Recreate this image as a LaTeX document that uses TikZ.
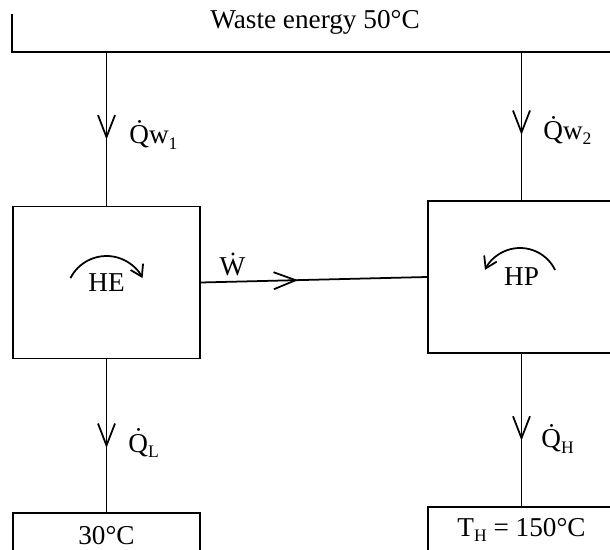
\documentclass[tikz,border=0pt]{standalone}
\usepackage{fontspec}
\setmainfont{Liberation Serif}
\usetikzlibrary{arrows.meta,positioning,decorations.markings}
\newcommand{\lowidx}[1]{\raisebox{-0.45ex}{\fontsize{10}{12}\selectfont #1}}
\tikzset{
  plant/.style={draw, line width=1pt, minimum width=3.74cm, minimum height=3.04cm, inner sep=0pt},
  reservoir/.style={draw, line width=1pt, minimum width=3.74cm, minimum height=0.92cm, inner sep=0pt},
  flow/.style={line width=1pt, postaction={decorate},
    decoration={markings, mark=at position #1 with {\arrow{Straight Barb[length=0.44cm, width=0.34cm, line width=1pt]}}}},
  flowlabel/.style={inner sep=0pt},
  spinarrow/.style={line width=1pt, -{Straight Barb[length=0.22cm, width=0.28cm]}}
}

\begin{document}
\begin{tikzpicture}[x=0.02cm, y=-0.02cm, font=\fontsize{15.5}{18}\selectfont]
  \useasboundingbox (0,0) rectangle (610,550);
  \clip (0,0) rectangle (610,550);
  % waste energy reservoir, open at the top and right
  \node (waste) at (315,22) {Waste energy 50°C};
  \draw[line width=1pt] (12,14) |- (620,52) coordinate (wastebase);
  \node[plant] (he) at (106.5,282.5) {HE};
  \node[plant] (hp) at (521.5,277) {HP};
  \node[reservoir] (cold) at (106.5,536) {30°C};
  \node[reservoir] (hot) at (521.5,530) {T\lowidx{H} = 150°C};
  % heat and work flows
  \draw[flow=0.57] (he.north |- wastebase) -- node[flowlabel, pos=0.54, right=0.44cm] {\.{Q}w\lowidx{1}} (he.north);
  \draw[flow=0.56] (hp.north |- wastebase) -- node[flowlabel, pos=0.53, right=0.42cm] {\.{Q}w\lowidx{2}} (hp.north);
  \draw[flow=0.43] (he.east) -- node[flowlabel, pos=0.14, above=0.1cm] {\.{W}} (hp.west);
  \draw[flow=0.58] (he.south) -- node[flowlabel, pos=0.55, right=0.42cm] {\.{Q}\lowidx{L}} (cold.north);
  \draw[flow=0.57] (hp.south) -- node[flowlabel, pos=0.56, right=0.38cm] {\.{Q}\lowidx{H}} (hot.north);
  % direction of the cycles
  \coordinate (hespin) at ([yshift=-0.28cm]he.center);
  \coordinate (hpspin) at ([xshift=-0.03cm, yshift=-0.2cm]hp.center);
  \draw[spinarrow] ([shift={(153:0.81cm)}]hespin) arc[start angle=153, end angle=27, radius=0.81cm];
  \draw[spinarrow] ([shift={(26:0.78cm)}]hpspin) arc[start angle=26, end angle=154, radius=0.78cm];
\end{tikzpicture}
\end{document}
